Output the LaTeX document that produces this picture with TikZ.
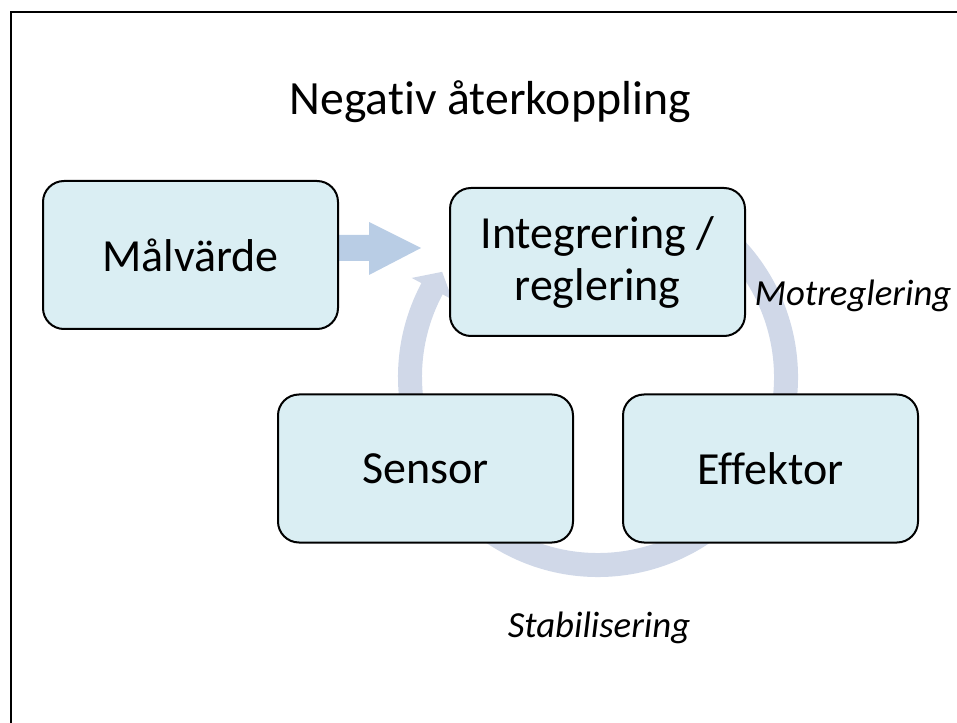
\documentclass[tikz,border=0pt]{standalone}
\usepackage{fontspec}
\setmainfont{Carlito}[Ligatures=CommonOff]
\definecolor{boxfill}{HTML}{DAEEF3}
\definecolor{ringcol}{HTML}{D0D8E8}
\definecolor{arrowcol}{HTML}{B9CDE5}
\begin{document}
\begin{tikzpicture}[x=0.75pt,y=0.75pt,
  box/.style={draw=black, line width=1.5pt, fill=boxfill, rounded corners=15.75pt,
    minimum width=221.25pt, minimum height=111pt, align=center,
    font=\fontsize{34.5}{39}\selectfont, inner sep=0pt},
  lbl/.style={anchor=base, font=\itshape\fontsize{27.6}{33}\selectfont},
  frameline/.style={draw=black, line width=1.5pt}]
\useasboundingbox (0,0) rectangle (957,722);
\clip (0,0) rectangle (957,722);
\path[frameline] (10.5,-10) -- (10.5,709.5) -- (975,709.5);
% circular arrow
\coordinate (c) at (598,345);
\draw[ringcol, line width=18pt] ([shift={(60:188)}]c) arc (60:-208.5:188);
\fill[ringcol] ([shift={(152:211)}]c) -- ([shift={(146:188)}]c) -- ([shift={(152:165)}]c) -- cycle;
% block arrow
\fill[arrowcol] (330,487) -- (369,487) -- (369,500) -- (421,474) -- (369,447) -- (369,461) -- (330,461) -- cycle;
% boxes
\node[box] (m) at (190.5,467) {Målvärde};
\node[box] (i) at (597.5,460) {Integrering /\\reglering};
\node[box] (s) at (425.5,253.5) {Sensor};
\node[box] (e) at (770.5,253.5) {Effektor};
% texts
\node[anchor=base, font=\fontsize{35.8}{43}\selectfont] (title) at (490,607) {Negativ återkoppling};
\node[lbl] (mot) at (853,416) {Motreglering};
\node[lbl] (stab) at (599,85) {Stabilisering};
\end{tikzpicture}
\end{document}
